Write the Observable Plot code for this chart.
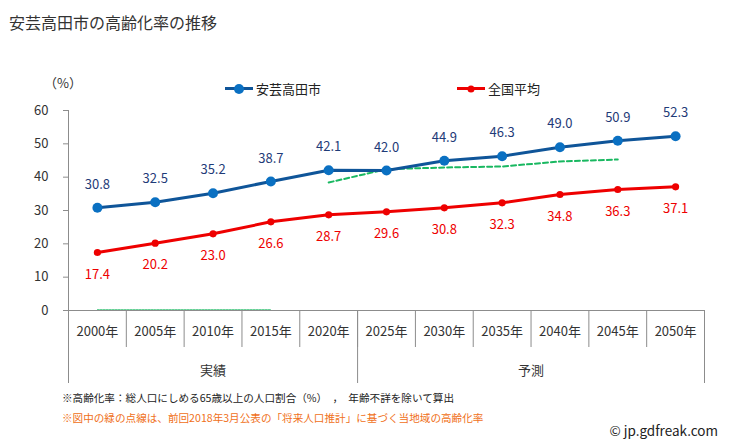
<!DOCTYPE html>
<html><head><meta charset="utf-8">
<script src="https://cdn.jsdelivr.net/npm/d3@7"></script>
<script src="https://cdn.jsdelivr.net/npm/@observablehq/plot@0.6"></script>
<style>
  html,body{margin:0;padding:0;background:#fff;}
  #wrap{position:relative;width:729px;height:446px;font-family:"Noto Sans CJK JP","Noto Sans",sans-serif;color:#333;overflow:hidden;}
  #wrap svg{position:absolute;left:0;top:0;}
  .abs{position:absolute;white-space:nowrap;line-height:1;}
  .leg{position:absolute;display:flex;align-items:center;font-size:13px;color:#222;line-height:1;}
  .sym{position:relative;width:28px;height:12px;margin-right:3px;}
  .sym .ln{position:absolute;left:0;right:0;top:4.5px;height:3px;}
  .sym .pt{position:absolute;left:50%;top:50%;border-radius:50%;transform:translate(-50%,-50%);}
</style>
</head><body>
<div id="wrap"></div>
<script>
const years = [2000, 2005, 2010, 2015, 2020, 2025, 2030, 2035, 2040, 2045, 2050];
const cityValues = [30.8, 32.5, 35.2, 38.7, 42.1, 42.0, 44.9, 46.3, 49.0, 50.9, 52.3];
const nationValues = [17.4, 20.2, 23.0, 26.6, 28.7, 29.6, 30.8, 32.3, 34.8, 36.3, 37.1];
const prevProjection = [0, 0, 0, 0, 38.4, 42.4, 42.9, 43.2, 44.7, 45.3, null];
const yTicks = [0, 10, 20, 30, 40, 50, 60];
const groupNames = ["実績", "予測"];
const cityName = "安芸高田市";
const nationName = "全国平均";
const titleText = "安芸高田市の高齢化率の推移";
const unitText = "（%）";
const note1 = "※高齢化率：総人口にしめる65歳以上の人口割合（%）　，　年齢不詳を除いて算出";
const note2 = "※図中の緑の点線は、前回2018年3月公表の「将来人口推計」に基づく当地域の高齢化率";
const credit = "© jp.gdfreak.com";

const half = 2.5;
const edges = years.map(y => y - half).concat([years[years.length - 1] + half]);
const groupEdges = [years[0] - half, 2020 + half, years[years.length - 1] + half];
const groupCenters = [(years[0] + 2020) / 2, (2025 + years[years.length - 1]) / 2];

const city = years.map((y, i) => ({year: y, v: cityValues[i]}));
const nation = years.map((y, i) => ({year: y, v: nationValues[i]}));
const prev = years.map((y, i) => ({year: y, v: prevProjection[i]}));
const prevZero = prev.filter(d => d.year < 2020);
const prevMain = prev.filter(d => d.year >= 2020);

const CITY_LINE = "#0f5599", CITY_DOT = "#0a70c2", CITY_LABEL = "#1f3b78";
const RED = "#ee0000", GREEN = "#00b050", AXIS = "#8c8c8c";
const font = '"Noto Sans CJK JP","Noto Sans",sans-serif';

const chart = Plot.plot({
  width: 729,
  height: 446,
  marginLeft: 68,
  marginRight: 25,
  marginTop: 110,
  marginBottom: 136,
  style: {fontFamily: font, background: "transparent", overflow: "visible"},
  x: {type: "linear", domain: [years[0] - half, years[years.length - 1] + half]},
  y: {domain: [0, 60]},
  marks: [
    Plot.axisY(yTicks, {tickSize: 5, tickPadding: 15, stroke: AXIS, fill: "#333", fontSize: 13, tickFormat: d => d, label: null}),
    Plot.axisX(edges, {tickSize: 37, stroke: AXIS, tickFormat: () => "", label: null}),
    Plot.axisX(groupEdges, {tickSize: 73, stroke: AXIS, tickFormat: () => "", label: null}),
    Plot.axisX(years, {tickSize: 0, tickPadding: 16, fill: "#333", fontSize: 13, tickFormat: d => d + "年", label: null}),
    Plot.axisX(groupCenters, {tickSize: 0, tickPadding: 55, fill: "#333", fontSize: 13, tickFormat: (d, i) => groupNames[i], label: null}),
    Plot.ruleX([years[0] - half], {y1: 0, y2: 60, stroke: AXIS}),
    Plot.ruleY([0], {stroke: AXIS}),
    Plot.line(prevZero, {x: "year", y: "v", stroke: GREEN, strokeWidth: 1, strokeDasharray: "2,1", strokeOpacity: 0.6, dy: -1}),
    Plot.line(prevMain, {x: "year", y: "v", stroke: GREEN, strokeWidth: 2, strokeDasharray: "5,3", strokeOpacity: 0.9}),
    Plot.line(nation, {x: "year", y: "v", stroke: RED, strokeWidth: 3}),
    Plot.dot(nation, {x: "year", y: "v", r: 3.6, fill: RED}),
    Plot.line(city, {x: "year", y: "v", stroke: CITY_LINE, strokeWidth: 3}),
    Plot.dot(city, {x: "year", y: "v", r: 5, fill: CITY_DOT}),
    Plot.text(city, {x: "year", y: "v", text: d => d.v.toFixed(1), dy: -23, fill: CITY_LABEL, fontSize: 13}),
    Plot.text(nation, {x: "year", y: "v", text: d => d.v.toFixed(1), dy: 22, fill: RED, fontSize: 13})
  ]
});

const wrap = document.getElementById("wrap");
wrap.appendChild(chart);

function addText(txt, css) {
  const d = document.createElement("div");
  d.className = "abs";
  d.textContent = txt;
  Object.assign(d.style, css);
  wrap.appendChild(d);
  return d;
}
addText(titleText, {left: "9px", top: "14px", fontSize: "16px", color: "#333"});
addText(unitText, {left: "44px", top: "76px", fontSize: "13px", color: "#333"});
addText(note1, {left: "62px", top: "393px", fontSize: "10.6px", color: "#222"});
addText(note2, {left: "62px", top: "413px", fontSize: "10.6px", color: "#f07020"});
addText(credit, {right: "11px", top: "424px", fontSize: "13.5px", color: "#222"});

function addLegend(name, lineColor, dotColor, dotSize, left, top) {
  const g = document.createElement("div");
  g.className = "leg";
  g.style.left = left + "px";
  g.style.top = top + "px";
  const s = document.createElement("div");
  s.className = "sym";
  const ln = document.createElement("div");
  ln.className = "ln"; ln.style.background = lineColor;
  const pt = document.createElement("div");
  pt.className = "pt"; pt.style.background = dotColor;
  pt.style.width = dotSize + "px"; pt.style.height = dotSize + "px";
  s.appendChild(ln); s.appendChild(pt);
  const t = document.createElement("span");
  t.textContent = name;
  g.appendChild(s); g.appendChild(t);
  wrap.appendChild(g);
}
addLegend(cityName, CITY_LINE, CITY_DOT, 10, 225, 82);
addLegend(nationName, RED, RED, 7, 457, 82);
</script>
</body></html>
